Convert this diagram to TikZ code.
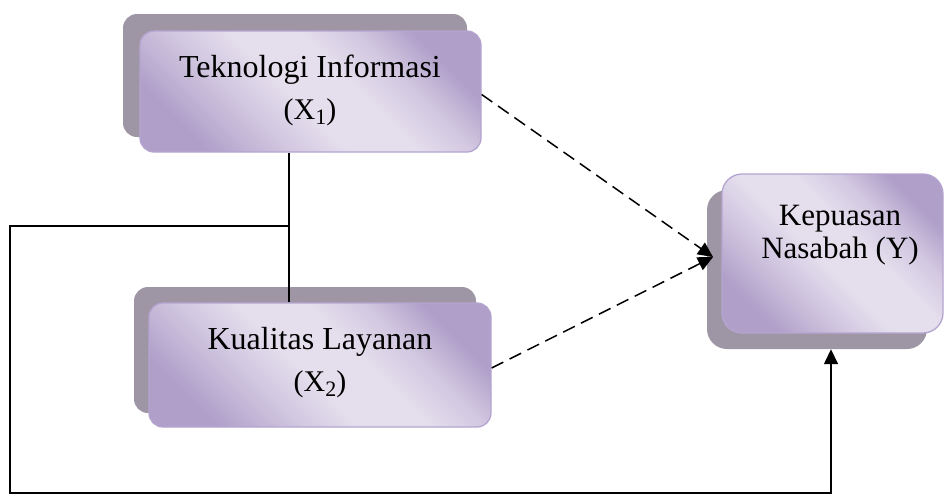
\documentclass[tikz,border=0pt]{standalone}
\usepackage{fontspec}
\setmainfont{Liberation Serif}
\usetikzlibrary{arrows.meta,calc}
\definecolor{plight}{HTML}{E5DFED}
\definecolor{pdark}{HTML}{B09FC9}
\definecolor{pmid}{HTML}{D2C8E1}
\definecolor{shadowc}{HTML}{9E96A4}
\definecolor{pborder}{HTML}{B4A5D0}
\pgfdeclarehorizontalshading{purpleshine}{100bp}{color(0bp)=(pdark); color(25bp)=(pdark); color(38bp)=(pmid); color(47bp)=(plight); color(57bp)=(plight); color(66bp)=(pmid); color(75bp)=(pdark); color(100bp)=(pdark)}
\newcommand{\subvar}[1]{{\fontsize{30}{42}\selectfont (X\raisebox{-5pt}{\fontsize{22}{22}\selectfont #1})}}
\tikzset{
  shadowbox/.style={fill=shadowc, draw=none, rounded corners=14pt, inner sep=0pt},
  mainbox/.style={shading=purpleshine, shading angle=45, draw=pborder, line width=1.3pt, rounded corners=14pt, inner sep=0pt},
  boxtext/.style={align=center, font=\fontsize{32}{42}\selectfont, inner sep=0pt, text=black},
  link/.style={line width=1.5pt, draw=black},
  tip/.style={-{Triangle[length=15pt,width=14pt]}},
  dashlink/.style={link, dash pattern=on 13pt off 7pt, tip}
}
\begin{document}
\begin{tikzpicture}[x=1pt,y=-1pt]
\useasboundingbox (0,0) rectangle (944,496);
% box 1
\node[shadowbox, minimum width=344pt, minimum height=123pt] (s1) at (295,75.5) {};
\node[mainbox, minimum width=341pt, minimum height=121pt] (b1) at (310.5,91.5) {};
\node[boxtext] (t1) at (310,90) {Teknologi Informasi\\\subvar{1}};
% box 2
\node[shadowbox, minimum width=342pt, minimum height=126pt] (s2) at (305,350) {};
\node[mainbox, minimum width=342pt, minimum height=124pt] (b2) at (320,365) {};
\node[boxtext] (t2) at (320,363) {Kualitas Layanan\\\subvar{2}};
% box 3
\node[shadowbox, rounded corners=20pt, minimum width=220pt, minimum height=159pt] (s3) at (817,269.5) {};
\node[mainbox, rounded corners=20pt, minimum width=221pt, minimum height=159pt] (b3) at (832.5,253.5) {};
\node[boxtext, font=\fontsize{31}{33}\selectfont] (t3) at (840,235) {Kepuasan\\Nasabah (Y)};
% connectors
\coordinate (j) at (289,226);
\coordinate (lt) at (10,226);
\coordinate (lb) at (10,493);
\coordinate (rb) at (831,493);
\coordinate (yin) at (713,257);
\draw[link] (b1.south -| j) -- (b2.north -| j);
\draw[link, tip] (j) -- (lt) -- (lb) -- (rb) -- (rb |- s3.south);
\draw[dashlink] ($(b1.east)+(0,3)$) -- (yin);
\draw[dashlink] ($(b2.east)+(0,3)$) -- (yin);
\end{tikzpicture}
\end{document}
